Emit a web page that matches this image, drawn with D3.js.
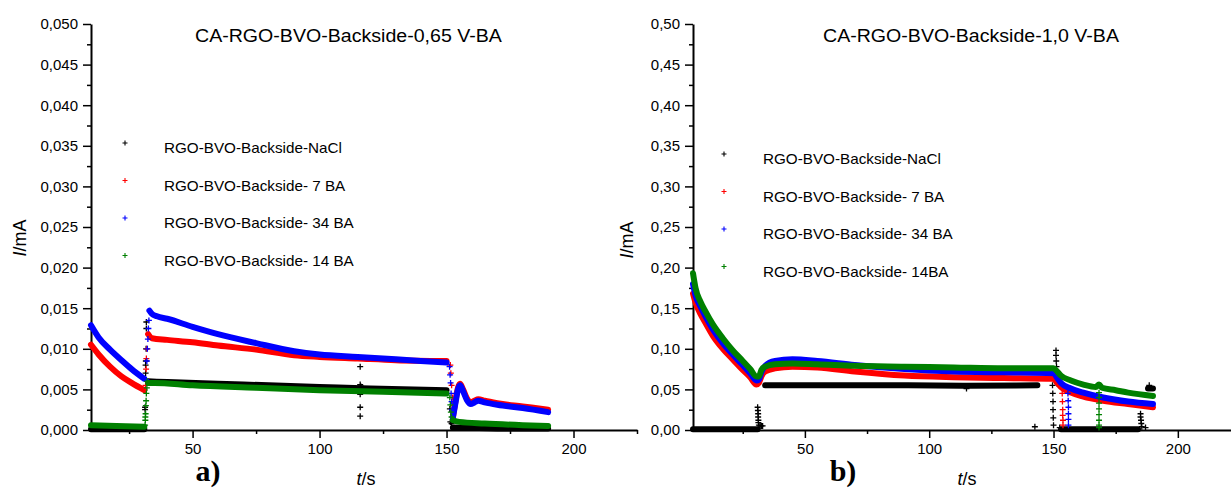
<!DOCTYPE html>
<html><head><meta charset="utf-8">
<script src="https://cdn.jsdelivr.net/npm/d3@7/dist/d3.min.js"></script>
<style>body{margin:0;background:#fff}svg{display:block}</style>
</head><body>
<svg id="c" width="1231" height="489"></svg>
<script>
// ---------- labels ----------
const titleA = "CA-RGO-BVO-Backside-0,65 V-BA";
const titleB = "CA-RGO-BVO-Backside-1,0 V-BA";
const namesA = ["RGO-BVO-Backside-NaCl","RGO-BVO-Backside- 7 BA","RGO-BVO-Backside- 34 BA","RGO-BVO-Backside- 14 BA"];
const namesB = ["RGO-BVO-Backside-NaCl","RGO-BVO-Backside- 7 BA","RGO-BVO-Backside- 34 BA","RGO-BVO-Backside- 14BA"];
const colors = ["#000000","#ff0000","#0000ff","#008000"];
const xTicks = [50,100,150,200];
const xMinorTicks = [25,75,125,175,225];
const yTicksA = [0,0.005,0.010,0.015,0.020,0.025,0.030,0.035,0.040,0.045,0.050];
const yTicksB = [0,0.05,0.10,0.15,0.20,0.25,0.30,0.35,0.40,0.45,0.50];

// ---------- panel a) 0,65 V : continuous parts [t, I] (null = gap) ----------
const aNaCl = [[10,0.0001],[31,0.0001],[31.5,null],[32.5,0.0060],[40,0.0059],[60,0.0057],[80,0.0055],[100,0.0053],[120,0.0051],[150,0.0049],[151,null],[152.5,0.0003],[170,0.0002],[190,0.0002]];
const a7BA = [[10,0.0105],[13,0.0093],[17.5,0.0078],[22,0.0066],[26,0.0058],[31,0.0049],[31.5,null],[32.5,0.0118],[34,0.0113],[40,0.0111],[50,0.0108],[60,0.0104],[75,0.0099],[90,0.0092],[100,0.0090],[115,0.0088],[130,0.0086],[150,0.0085],[151,null],[152.5,0.0016],[153.5,0.0035],[154.5,0.0052],[155.3,0.0057],[156.5,0.0050],[158,0.0039],[159.5,0.0034],[161,0.0036],[162.5,0.0038],[165,0.0036],[170,0.0033],[180,0.0029],[190,0.0025]];
const a34BA = [[10,0.0129],[13,0.0114],[17.5,0.0099],[22,0.0086],[26,0.0075],[31,0.0063],[31.5,null],[33,0.0147],[34,0.0143],[36,0.0140],[40,0.0137],[50,0.0127],[60,0.0118],[75,0.0107],[90,0.0097],[100,0.0093],[115,0.0090],[130,0.0087],[150,0.0083],[151,null],[152.5,0.0015],[153.5,0.0033],[154.5,0.0050],[155.3,0.0055],[156.5,0.0048],[158,0.0037],[159.5,0.0032],[161,0.0034],[162.5,0.0036],[165,0.0034],[170,0.0031],[180,0.0027],[190,0.0022]];
const a14BA = [[10,0.0006],[20,0.0005],[31,0.0004],[31.5,null],[32.5,0.0058],[35,0.0058],[50,0.0055],[75,0.0052],[100,0.0049],[125,0.0047],[150,0.0045],[151,null],[152.5,0.0012],[155,0.0010],[165,0.0008],[180,0.0006],[190,0.0005]];
// ---------- panel a) transient single points ----------
const aNaClPts = [[31.3,0.0025],[31.3,0.0028],[31.5,0.0070],[31.5,0.0080],[31.6,0.0085],[31.7,0.0100],[31.8,0.0125],[31.8,0.0133],[116,0.0078],[116,0.0056],[116.2,0.0054],[116.3,0.0051],[116,0.0044],[116,0.0028],[116,0.0017],[151.3,0.0026],[151.5,0.0010],[152,0.0008]];
const a7BAPts = [[31.5,0.0055],[31.7,0.0075],[31.8,0.0088],[32,0.0100],[151.5,0.0080],[151.7,0.0070],[152,0.0055],[152.3,0.0040],[152.6,0.0030]];
const a34BAPts = [[31.8,0.0062],[32,0.0085],[32.2,0.0100],[32.4,0.0112],[32.6,0.0125],[32.8,0.0135],[151.2,0.0078],[151.4,0.0068],[151.6,0.0058],[151.8,0.0045],[152,0.0035],[152.2,0.0025]];
const a14BAPts = [[31.3,0.0006],[31.4,0.0012],[31.4,0.0016],[31.5,0.0020],[31.6,0.0030],[31.7,0.0036],[31.8,0.0045],[32,0.0052],[32.1,0.0060],[151.3,0.0040],[151.5,0.0031],[151.7,0.0022],[152,0.0016]];

// ---------- panel b) 1,0 V ----------
const bNaCl = [[5,0.0008],[31,0.0008],[31.5,null],[34,0.055],[60,0.055],[90,0.055],[115,0.0545],[143.5,0.055],[144,null],[153,0.001],[184,0.001],[184.5,null],[188,0.051],[190,0.051]];
const b7BA = [[5,0.168],[6,0.157],[8,0.143],[10,0.132],[13,0.116],[17,0.100],[21,0.087],[25,0.074],[28,0.065],[30.5,0.056],[31.5,0.058],[32.5,0.066],[34,0.072],[38,0.076],[45,0.078],[55,0.077],[70,0.072],[90,0.067],[110,0.065],[130,0.064],[150,0.063],[151.5,0.058],[153,0.053],[157,0.046],[162,0.041],[170,0.036],[180,0.032],[190,0.028]];
const b34BA = [[5,0.180],[6,0.166],[8,0.152],[10,0.140],[13,0.124],[17,0.107],[21,0.093],[25,0.080],[28,0.070],[30.5,0.061],[31.5,0.062],[32.5,0.071],[34,0.079],[38,0.085],[45,0.087],[55,0.085],[70,0.080],[90,0.075],[110,0.072],[130,0.071],[150,0.070],[151.5,0.064],[153,0.058],[157,0.051],[162,0.046],[170,0.040],[180,0.035],[190,0.032]];
const b14BA = [[5,0.193],[6,0.175],[8,0.158],[10,0.146],[13,0.130],[17,0.113],[21,0.098],[25,0.085],[28,0.075],[30.5,0.066],[31.5,0.066],[32.5,0.074],[34,0.078],[38,0.081],[45,0.082],[55,0.081],[70,0.079],[90,0.078],[110,0.077],[130,0.076],[150,0.076],[151.5,0.072],[153,0.067],[157,0.061],[162,0.056],[167,0.053],[168.3,0.056],[169.5,0.052],[175,0.049],[180,0.046],[190,0.042]];
const bNaClPts = [[31,0.028],[31.1,0.024],[31.2,0.020],[31.2,0.016],[31.3,0.012],[31.3,0.009],[31.5,0.006],[32,0.005],[32.5,0.005],[33,0.005],[115,0.051],[142.5,0.004],[149.5,0.065],[149.6,0.055],[149.7,0.045],[149.8,0.035],[149.8,0.025],[149.9,0.015],[150,0.006],[151,0.098],[151,0.092],[151.1,0.085],[151.2,0.078],[151.3,0.070],[151.4,0.063],[151.5,0.057],[152.5,0.003],[185,0.020],[185,0.016],[185.2,0.012],[185.3,0.008],[185.5,0.004],[187,0.003],[188.5,0.055]];
const b7BAPts = [[153.5,0.045],[153.6,0.035],[153.7,0.025],[153.7,0.018],[153.8,0.012],[153.8,0.006]];
const b34BAPts = [[155.8,0.045],[155.9,0.036],[156,0.028],[156,0.020],[156,0.013],[156,0.006]];
const b14BAPts = [[168.3,0.046],[168.3,0.040],[168.3,0.033],[168.3,0.026],[168.3,0.019],[168.3,0.012],[168.3,0.006],[168.3,0.003]];

const svg = d3.select("#c");
const FONT = "'Liberation Sans', Arial, sans-serif";

function stretchedText(g, x, y, str, size, sx){
  g.append("text").attr("transform",`translate(${x},${y}) scale(${sx},1)`)
    .attr("font-family",FONT).attr("font-size",size).attr("fill","#000").text(str);
}

function panel(cfg){
  const g = svg.append("g");
  const x = d3.scaleLinear().domain(cfg.xDomain).range(cfg.xRange);
  const y = d3.scaleLinear().domain(cfg.yDomain).range([430,24]);
  const yMinor = cfg.yTicks.slice(1).map((v,i)=>(v+cfg.yTicks[i])/2);

  // y axis
  const ya = g.append("g").attr("transform",`translate(${cfg.xRange[0]},0)`);
  ya.call(d3.axisLeft(y).tickValues(cfg.yTicks).tickSize(8).tickSizeOuter(0).tickPadding(5).tickFormat(d=>d3.format(cfg.yFmt)(d).replace(".",",")));
  ya.append("g").call(d3.axisLeft(y).tickValues(yMinor).tickSize(4).tickFormat("")).select(".domain").remove();
  // x axis
  const xa = g.append("g").attr("transform","translate(0,430)");
  xa.call(d3.axisBottom(x).tickValues(cfg.xTicks).tickSize(8).tickSizeOuter(0).tickPadding(5));
  xa.append("g").call(d3.axisBottom(x).tickValues(cfg.xMinor).tickSize(4).tickFormat("")).select(".domain").remove();
  g.selectAll(".domain").attr("stroke","#000").attr("stroke-width",2);
  g.selectAll(".tick line").attr("stroke","#000").attr("stroke-width",1.5);
  g.selectAll(".tick text").attr("font-family",FONT).attr("font-size",15).attr("fill","#000");

  // data
  const line = d3.line().defined(d=>d[1]!==null).x(d=>x(d[0])).y(d=>y(d[1])).curve(d3.curveMonotoneX);
  const plus = "M-3,0H3M0,-3V3";
  cfg.series.forEach((s,i)=>{
    g.append("path").datum(s.line).attr("d",line).attr("fill","none")
      .attr("stroke",colors[i]).attr("stroke-width",6).attr("stroke-linejoin","round").attr("stroke-linecap","round");
    g.append("g").selectAll("path").data(s.pts).join("path")
      .attr("transform",d=>`translate(${x(d[0])},${y(d[1])})`).attr("d",plus)
      .attr("stroke",colors[i]).attr("stroke-width",1.3).attr("fill","none");
  });

  // legend
  cfg.names.forEach((n,i)=>{
    g.append("path").attr("transform",`translate(${cfg.legX},${cfg.legY+i*37.5})`).attr("d","M-2.5,0H2.5M0,-2.5V2.5")
      .attr("stroke",colors[i]).attr("stroke-width",1.1);
    stretchedText(g, cfg.legTextX, cfg.legY+10+i*37.5, n, 14, 1.09);
  });

  // title
  stretchedText(g, cfg.titleX, 42, cfg.title, 17.5, 1.12);

  // y label
  const yl = g.append("text").attr("transform",`translate(${cfg.yLabX},${cfg.yLabY}) rotate(-90)`)
    .attr("text-anchor","middle").attr("font-family",FONT).attr("font-size",18).attr("fill","#000");
  yl.append("tspan").attr("font-style","italic").text("I");
  yl.append("tspan").text("/mA");
  // x label
  const xl = g.append("text").attr("x",cfg.xLabX).attr("y",485).attr("text-anchor","middle")
    .attr("font-family",FONT).attr("font-size",18).attr("fill","#000");
  xl.append("tspan").attr("font-style","italic").text("t");
  xl.append("tspan").text("/s");
  // panel letter
  g.append("text").attr("x",cfg.letX).attr("y",481).attr("text-anchor","middle")
    .attr("font-family","'Liberation Serif','Times New Roman',serif").attr("font-weight","bold").attr("font-size",30).attr("fill","#000").text(cfg.letter);
}

panel({
  xDomain:[10,225], xRange:[91,637], yDomain:[0,0.05], yTicks:yTicksA, yFmt:".3f",
  xTicks:xTicks, xMinor:xMinorTicks,
  series:[{line:aNaCl,pts:aNaClPts},{line:a7BA,pts:a7BAPts},{line:a34BA,pts:a34BAPts},{line:a14BA,pts:a14BAPts}],
  names:namesA, legX:125, legY:143, legTextX:164,
  title:titleA, titleX:195, yLabX:26, yLabY:238, xLabX:366, letX:208, letter:"a)"
});
panel({
  xDomain:[5,225], xRange:[693,1240], yDomain:[0,0.5], yTicks:yTicksB, yFmt:".2f",
  xTicks:xTicks, xMinor:xMinorTicks,
  series:[{line:bNaCl,pts:bNaClPts},{line:b7BA,pts:b7BAPts},{line:b34BA,pts:b34BAPts},{line:b14BA,pts:b14BAPts}],
  names:namesB, legX:724, legY:154, legTextX:763,
  title:titleB, titleX:823, yLabX:633, yLabY:240, xLabX:967, letX:843, letter:"b)"
});
</script>
</body></html>
